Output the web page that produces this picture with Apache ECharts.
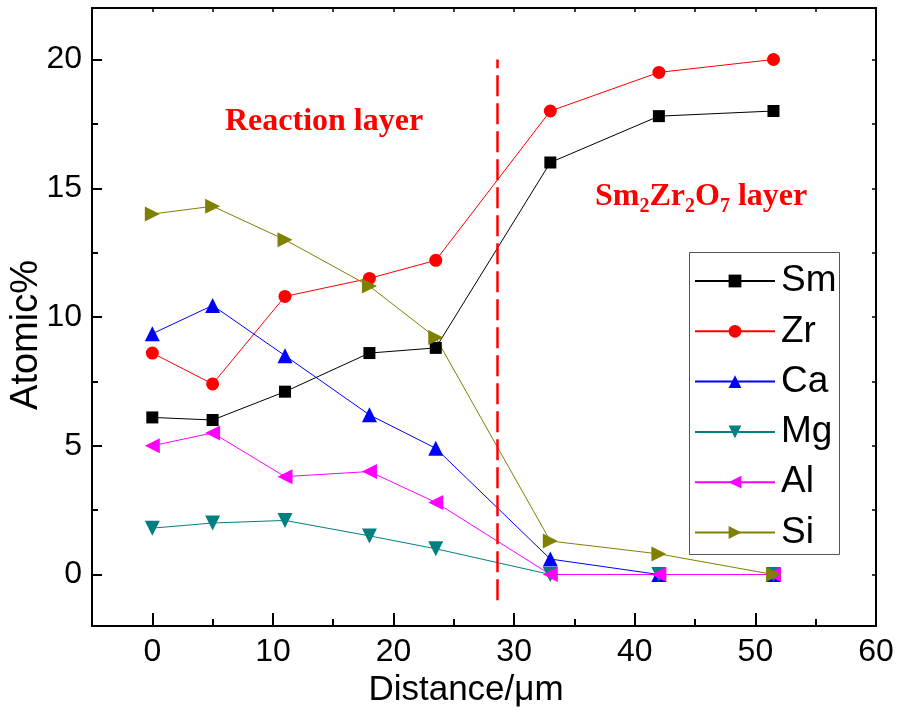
<!DOCTYPE html>
<html>
<head>
<meta charset="utf-8">
<script src="https://cdn.jsdelivr.net/npm/echarts@6/dist/echarts.min.js"></script>
<style>
  html, body { margin: 0; padding: 0; background: #fff; }
  #chart { width: 899px; height: 713px; }
</style>
</head>
<body>
<div id="chart"></div>
<script>
// Measurement positions (µm) and atomic percentages per element
const distance = [0, 5, 11, 18, 23.5, 33, 42, 51.5];
const sm = [6.1, 6.0, 7.1, 8.6, 8.8, 16.0, 17.8, 18.0];
const zr = [8.6, 7.4, 10.8, 11.5, 12.2, 18.0, 19.5, 20.0];
const ca = [9.35, 10.45, 8.5, 6.2, 4.9, 0.6, 0, 0];
const mg = [1.8, 2.0, 2.1, 1.5, 1.0, 0, 0, 0];
const al = [5.0, 5.5, 3.8, 4.0, 2.8, 0, 0, 0];
const si = [14.0, 14.3, 13.0, 11.2, 9.2, 1.3, 0.8, 0];

// Axis ranges and tick values
const xMajor = [0, 10, 20, 30, 40, 50, 60];
const xMinor = [5, 15, 25, 35, 45, 55];
const yMajor = [0, 5, 10, 15, 20];
const yMinor = [2.5, 7.5, 12.5, 17.5];
const boundaryX = 28.6;          // interface between the two layers
const boundarySpan = [-1, 20];

const sans = "'Liberation Sans', Arial, sans-serif";
const serif = "'Liberation Serif', 'Times New Roman', serif";

function pairs(ys) { return distance.map((x, i) => [x, ys[i]]); }

const chart = echarts.init(document.getElementById('chart'), null, { renderer: 'canvas' });

const base = { type: 'value', min: -5, max: 60, splitLine: { show: false } };
const baseY = { type: 'value', min: -2, max: 22, splitLine: { show: false } };
const axisLineStyle = { color: '#000', width: 2 };

function mk(name, data, color, symbol, size, rotate) {
  return {
    name: name, type: 'line', data: pairs(data),
    symbol: symbol, symbolSize: size, symbolRotate: rotate || 0,
    showAllSymbol: true,
    lineStyle: { color: color, width: 1 },
    itemStyle: { color: color },
    emphasis: { disabled: true },
    animation: false
  };
}

const series = [
  mk('Sm', sm, '#000000', 'rect', 12),
  mk('Zr', zr, '#ff0000', 'circle', 13),
  mk('Ca', ca, '#0000ff', 'triangle', 15),
  mk('Mg', mg, '#008080', 'triangle', 15, 180),
  mk('Al', al, '#ff00ff', 'triangle', 15, 90),
  mk('Si', si, '#808000', 'triangle', 15, -90)
];
series[0].markLine = {
  silent: true, symbol: ['none', 'none'], animation: false,
  label: { show: false },
  lineStyle: { color: '#ff0000', type: [21, 7], width: 2.5 },
  data: [[{ coord: [boundaryX, boundarySpan[0]] }, { coord: [boundaryX, boundarySpan[1]] }]]
};

chart.setOption({
  animation: false,
  backgroundColor: '#fff',
  grid: { left: 92, top: 8, right: 23, bottom: 87, containLabel: false, outerBoundsMode: 'none' },
  xAxis: [
    Object.assign({}, base, {
      position: 'bottom',
      axisLine: { onZero: false, lineStyle: axisLineStyle },
      axisTick: { inside: true, length: 13, lineStyle: { color: '#000', width: 2 }, customValues: xMajor },
      axisLabel: { customValues: xMajor, margin: 10, color: '#000', fontSize: 32, fontFamily: sans },
      name: 'Distance/\u03bcm', nameLocation: 'middle', nameGap: 42,
      nameTextStyle: { color: '#000', fontSize: 35, fontFamily: sans, padding: [0, 36, 0, 0] }
    }),
    Object.assign({}, base, {
      position: 'bottom',
      axisLine: { show: false, onZero: false },
      axisTick: { inside: true, length: 7, lineStyle: { color: '#000', width: 2 }, customValues: xMinor },
      axisLabel: { show: false }
    }),
    Object.assign({}, base, {
      position: 'top',
      axisLine: { onZero: false, lineStyle: axisLineStyle },
      axisTick: { inside: true, length: 4, lineStyle: { color: '#000', width: 1.5 }, customValues: xMajor.concat(xMinor) },
      axisLabel: { show: false }
    })
  ],
  yAxis: [
    Object.assign({}, baseY, {
      position: 'left',
      axisLine: { onZero: false, lineStyle: axisLineStyle },
      axisTick: { inside: true, length: 10, lineStyle: { color: '#000', width: 2 }, customValues: yMajor },
      axisLabel: { customValues: yMajor, margin: 10, color: '#000', fontSize: 32, fontFamily: sans },
      name: 'Atomic%', nameLocation: 'middle', nameGap: 46, nameRotate: 90, nameMoveOverlap: false,
      nameTextStyle: { color: '#000', fontSize: 38, fontFamily: sans, padding: [0, 36, 0, 0] }
    }),
    Object.assign({}, baseY, {
      position: 'left',
      axisLine: { show: false, onZero: false },
      axisTick: { inside: true, length: 6, lineStyle: { color: '#000', width: 2 }, customValues: yMinor },
      axisLabel: { show: false }
    }),
    Object.assign({}, baseY, {
      position: 'right',
      axisLine: { onZero: false, lineStyle: axisLineStyle },
      axisTick: { inside: true, length: 4, lineStyle: { color: '#000', width: 1.5 }, customValues: yMajor.concat(yMinor) },
      axisLabel: { show: false }
    })
  ],
  legend: {
    orient: 'vertical', left: 689, top: 252,
    padding: [7, 4, 4, 5],
    itemWidth: 80, itemHeight: 16, itemGap: 6.3,
    textStyle: { color: '#000', fontSize: 37, fontFamily: sans, lineHeight: 44, padding: [0, 0, 0, 1] },
    selectedMode: false,
    z: 5,
    data: ['Sm', 'Zr', 'Ca', 'Mg', 'Al', 'Si']
  },
  graphic: [
    {
      type: 'rect', z: 4,
      shape: { x: 689.5, y: 252.5, width: 150, height: 302 },
      style: { fill: '#fff', stroke: '#555', lineWidth: 1 }
    },
    {
      type: 'text', z: 10, left: 225, top: 106,
      style: { text: 'Reaction layer', fill: '#ff0000', font: 'bold 32px ' + serif }
    },
    {
      type: 'text', z: 10, left: 595, top: 181,
      style: {
        text: '{m|Sm}{s|2}{m|Zr}{s|2}{m|O}{s|7}{m| layer}',
        fill: '#ff0000',
        rich: {
          m: { fontSize: 32, fontWeight: 'bold', fontFamily: serif, fill: '#ff0000', lineHeight: 34, verticalAlign: 'top' },
          s: { fontSize: 20, fontWeight: 'bold', fontFamily: serif, fill: '#ff0000', lineHeight: 22, verticalAlign: 'top', padding: [16, 0, 0, 0] }
        }
      }
    }
  ],
  series: series
});
</script>
</body>
</html>
